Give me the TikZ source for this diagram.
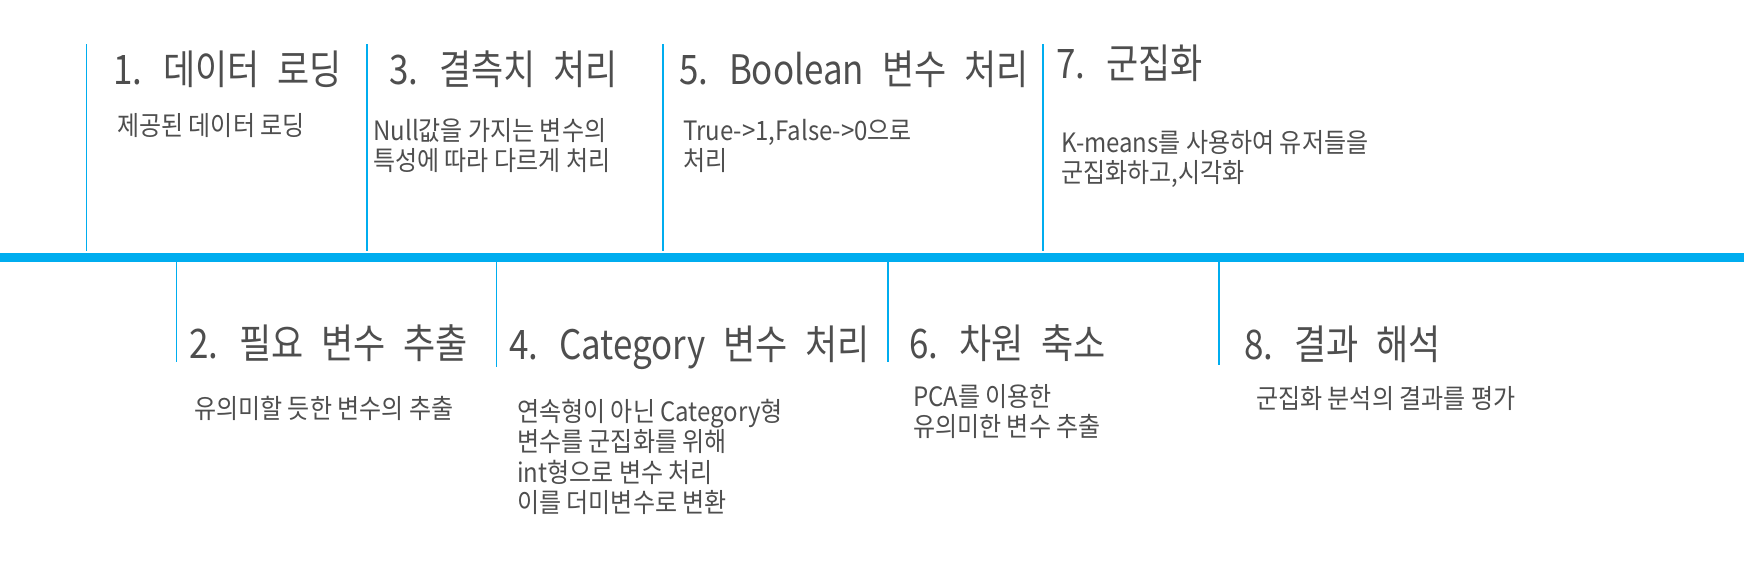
\documentclass[tikz,border=0pt]{standalone}
\usepackage{fontspec}
\usepackage{tikz}
\setmainfont{Noto Sans CJK KR}
\newfontfamily\stagefont[FakeStretch=0.86, WordSpace=2.3]{Noto Sans CJK KR}
\newfontfamily\notefont[FakeStretch=0.9]{Noto Sans CJK KR}
\definecolor{timeblue}{RGB}{0,173,239}
\definecolor{txtgray}{RGB}{78,78,78}

\begin{document}
\begin{tikzpicture}[x=0.75pt, y=-0.75pt,
  stage/.style={anchor=north west, inner sep=0pt, text=txtgray, font=\stagefont\fontsize{30.5pt}{36pt}\selectfont},
  note/.style={anchor=north west, inner sep=0pt, align=left, text=txtgray, font=\notefont\fontsize{20pt}{22.8pt}\selectfont},
  tick/.style={timeblue, line width=1pt},
  bar/.style={timeblue, line width=6.75pt}
]
\useasboundingbox (0,0) rectangle (1744,564);

% timeline
\coordinate (barL) at (0,257.5);
\coordinate (barR) at (1744,257.5);
\draw[bar] (barL) -- (barR);
\foreach \x in {86.7,367,663,1043} {
  \draw[tick] (\x,44) -- (\x,251);
}
\foreach \x/\y in {176.7/362,496.7/367,888/362,1219/365} {
  \draw[tick] (\x,262) -- (\x,\y);
}

% steps above the bar
\node[stage] (s1) at (113,51) {1. 데이터 로딩};
\node[stage] (s3) at (389,51) {3. 결측치 처리};
\node[stage] (s5) at (679,51) {5. Boolean 변수 처리};
\node[stage] (s7) at (1056,45) {7. 군집화};
\node[note] (n1) at (117,113) {제공된 데이터 로딩};
\node[note] (n3) at (373,118) {Null값을 가지는 변수의\\특성에 따라 다르게 처리};
\node[note] (n5) at (683,119) {True->1,False->0으로\\처리};
\node[note] (n7) at (1061,130) {K-means를 사용하여 유저들을\\군집화하고,시각화};

% steps below the bar
\node[stage] (s2) at (189,324) {2. 필요 변수 추출};
\node[stage] (s4) at (509,326) {4. Category 변수 처리};
\node[stage] (s6) at (909,324) {6. 차원 축소};
\node[stage] (s8) at (1244,326) {8. 결과 해석};
\node[note] (n2) at (194,396) {유의미할 듯한 변수의 추출};
\node[note] (n4) at (517,399) {연속형이 아닌 Category형\\변수를 군집화를 위해\\int형으로 변수 처리\\이를 더미변수로 변환};
\node[note] (n6) at (913,384) {PCA를 이용한\\유의미한 변수 추출};
\node[note] (n8) at (1256,386) {군집화 분석의 결과를 평가};
\end{tikzpicture}
\end{document}
